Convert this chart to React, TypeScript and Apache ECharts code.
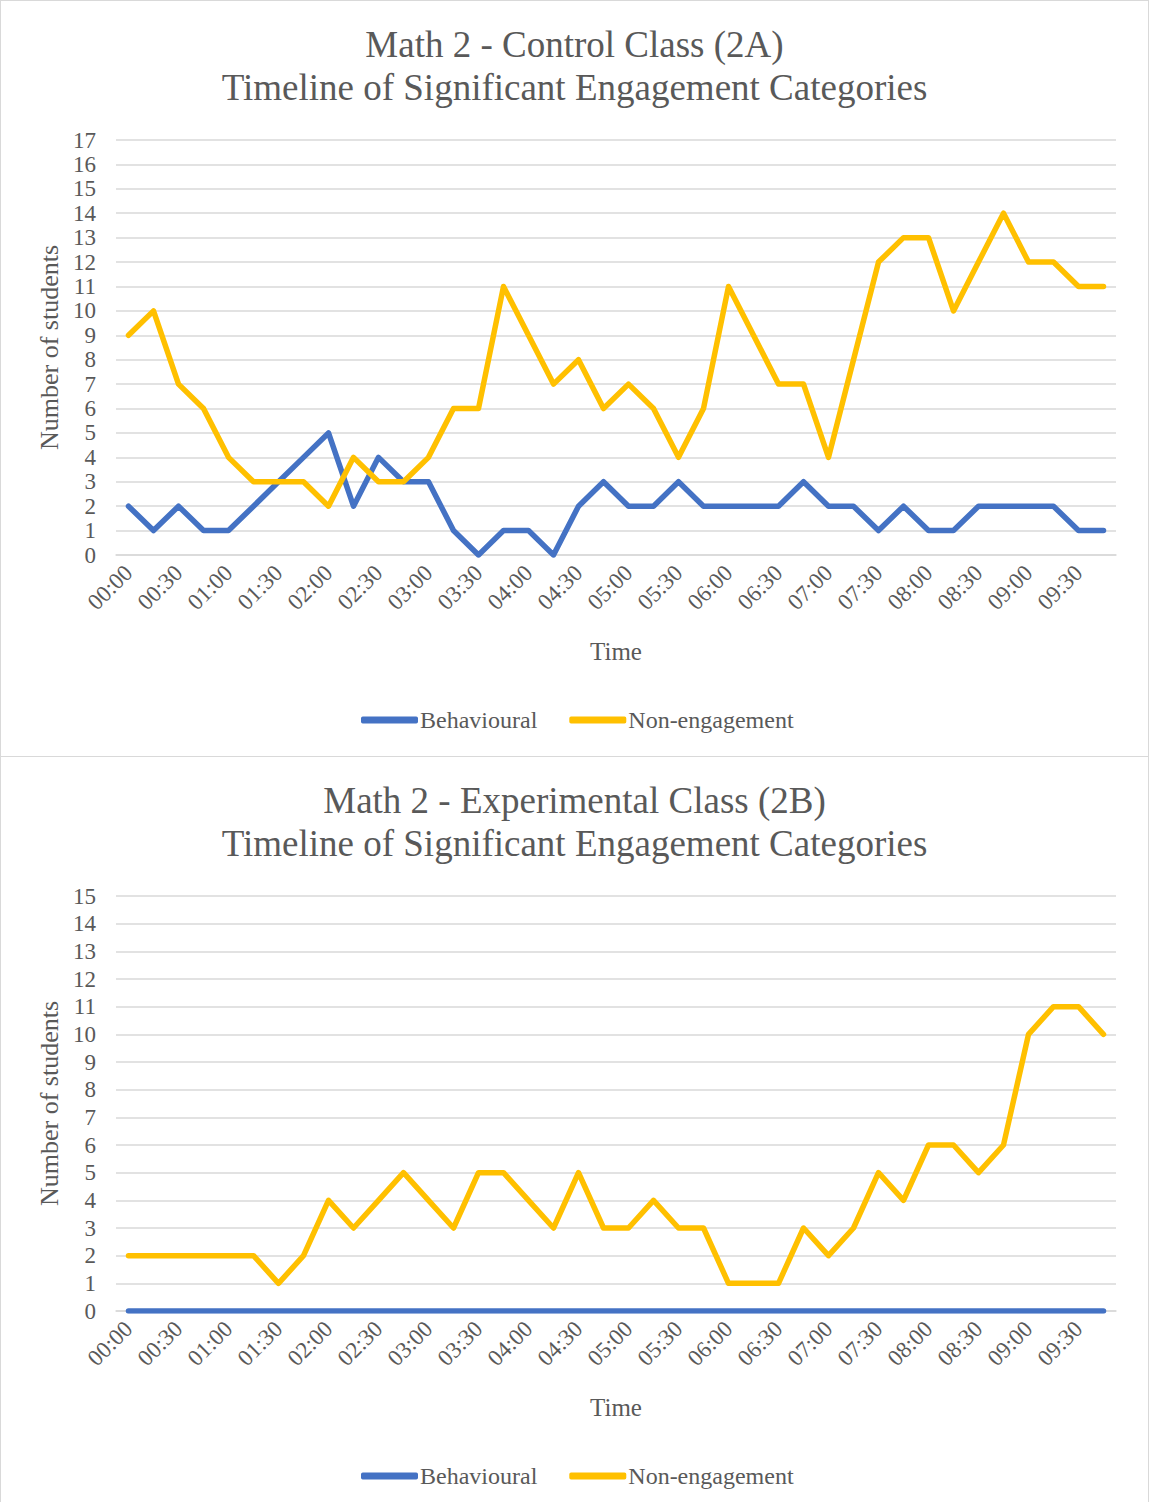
import React, { useEffect, useRef } from "react";
import * as echarts from "echarts";

const timeLabels = [
  "00:00", "00:15", "00:30", "00:45", "01:00", "01:15", "01:30", "01:45",
  "02:00", "02:15", "02:30", "02:45", "03:00", "03:15", "03:30", "03:45",
  "04:00", "04:15", "04:30", "04:45", "05:00", "05:15", "05:30", "05:45",
  "06:00", "06:15", "06:30", "06:45", "07:00", "07:15", "07:30", "07:45",
  "08:00", "08:15", "08:30", "08:45", "09:00", "09:15", "09:30", "09:45",
];

const controlBehavioural = [
  2, 1, 2, 1, 1, 2, 3, 4, 5, 2, 4, 3, 3, 1, 0, 1, 1, 0, 2, 3,
  2, 2, 3, 2, 2, 2, 2, 3, 2, 2, 1, 2, 1, 1, 2, 2, 2, 2, 1, 1,
];
const controlNonEngagement = [
  9, 10, 7, 6, 4, 3, 3, 3, 2, 4, 3, 3, 4, 6, 6, 11, 9, 7, 8, 6,
  7, 6, 4, 6, 11, 9, 7, 7, 4, 8, 12, 13, 13, 10, 12, 14, 12, 12, 11, 11,
];
const experimentalBehavioural = [
  0, 0, 0, 0, 0, 0, 0, 0, 0, 0, 0, 0, 0, 0, 0, 0, 0, 0, 0, 0,
  0, 0, 0, 0, 0, 0, 0, 0, 0, 0, 0, 0, 0, 0, 0, 0, 0, 0, 0, 0,
];
const experimentalNonEngagement = [
  2, 2, 2, 2, 2, 2, 1, 2, 4, 3, 4, 5, 4, 3, 5, 5, 4, 3, 5, 3,
  3, 4, 3, 3, 1, 1, 1, 3, 2, 3, 5, 4, 6, 6, 5, 6, 10, 11, 11, 10,
];

const seriesNames = ["Behavioural", "Non-engagement"];
const controlTitle = "Math 2 - Control Class (2A)\nTimeline of Significant Engagement Categories";
const experimentalTitle = "Math 2 - Experimental Class (2B)\nTimeline of Significant Engagement Categories";
const controlYMax = 17;
const experimentalYMax = 15;
const xAxisTitle = "Time";
const yAxisTitle = "Number of students";

const FONT = "'Liberation Serif', 'Times New Roman', 'DejaVu Serif', serif";
const TEXT = "#595959";
const GRID = "#d9d9d9";
const BLUE = "#4472C4";
const GOLD = "#FFC000";

function buildOption(title: string, beh: number[], non: number[], yMax: number) {
  const mkSeries = (name: string, data: number[], color: string) => ({
    name,
    type: "line",
    data,
    symbol: "none",
    showSymbol: false,
    color,
    lineStyle: { width: 5.5, color, cap: "round", join: "round" },
    itemStyle: { color },
  });
  return {
    animation: false,
    textStyle: { fontFamily: FONT, color: TEXT },
    title: {
      text: title,
      left: "center",
      top: 17,
      textStyle: {
        fontFamily: FONT,
        fontSize: 37,
        fontWeight: "normal",
        color: TEXT,
        lineHeight: 43,
      },
    },
    legend: {
      data: seriesNames,
      bottom: 19,
      left: 355,
      icon: "roundRect",
      itemWidth: 57,
      itemHeight: 7,
      itemGap: 32,
      textStyle: { fontFamily: FONT, fontSize: 24, color: TEXT, padding: [0, 0, 0, -3] },
    },
    grid: { left: 115, right: 32, top: 139, bottom: 201, containLabel: false },
    xAxis: {
      type: "category",
      data: timeLabels,
      boundaryGap: true,
      name: xAxisTitle,
      nameLocation: "middle",
      nameGap: 84,
      nameTextStyle: { fontFamily: FONT, fontSize: 25, color: TEXT },
      axisLine: { show: true, lineStyle: { color: GRID, width: 1.5 } },
      axisTick: { show: false },
      axisLabel: {
        interval: 1,
        rotate: 45,
        fontFamily: FONT,
        fontSize: 23,
        color: TEXT,
        margin: 14,
      },
    },
    yAxis: {
      type: "value",
      min: 0,
      max: yMax,
      interval: 1,
      name: yAxisTitle,
      nameLocation: "middle",
      nameRotate: 90,
      nameGap: 54,
      nameTextStyle: { fontFamily: FONT, fontSize: 26, color: TEXT },
      axisLine: { show: false },
      axisTick: { show: false },
      axisLabel: { fontFamily: FONT, fontSize: 23, color: TEXT, margin: 20 },
      splitLine: { show: true, lineStyle: { color: GRID, width: 1.5 } },
    },
    series: [mkSeries(seriesNames[0], beh, BLUE), mkSeries(seriesNames[1], non, GOLD)],
  };
}

function ChartBox(props: { top: number; option: any }) {
  const ref = useRef<HTMLDivElement>(null);
  useEffect(() => {
    if (!ref.current) return;
    const chart = echarts.init(ref.current, null, { renderer: "svg" });
    chart.setOption(props.option);
    return () => chart.dispose();
  }, []);
  return (
    <div
      style={{
        position: "absolute",
        left: 0,
        top: props.top,
        width: 1147,
        height: 755,
        border: "1px solid #d9d9d9",
        background: "#ffffff",
      }}
    >
      <div ref={ref} style={{ width: 1147, height: 755 }} />
    </div>
  );
}

export default function App() {
  return (
    <div style={{ position: "fixed", left: 0, top: 0, width: 1150, height: 1502, background: "#ffffff", overflow: "hidden" }}>
      <ChartBox top={0} option={buildOption(controlTitle, controlBehavioural, controlNonEngagement, controlYMax)} />
      <ChartBox top={756} option={buildOption(experimentalTitle, experimentalBehavioural, experimentalNonEngagement, experimentalYMax)} />
    </div>
  );
}
